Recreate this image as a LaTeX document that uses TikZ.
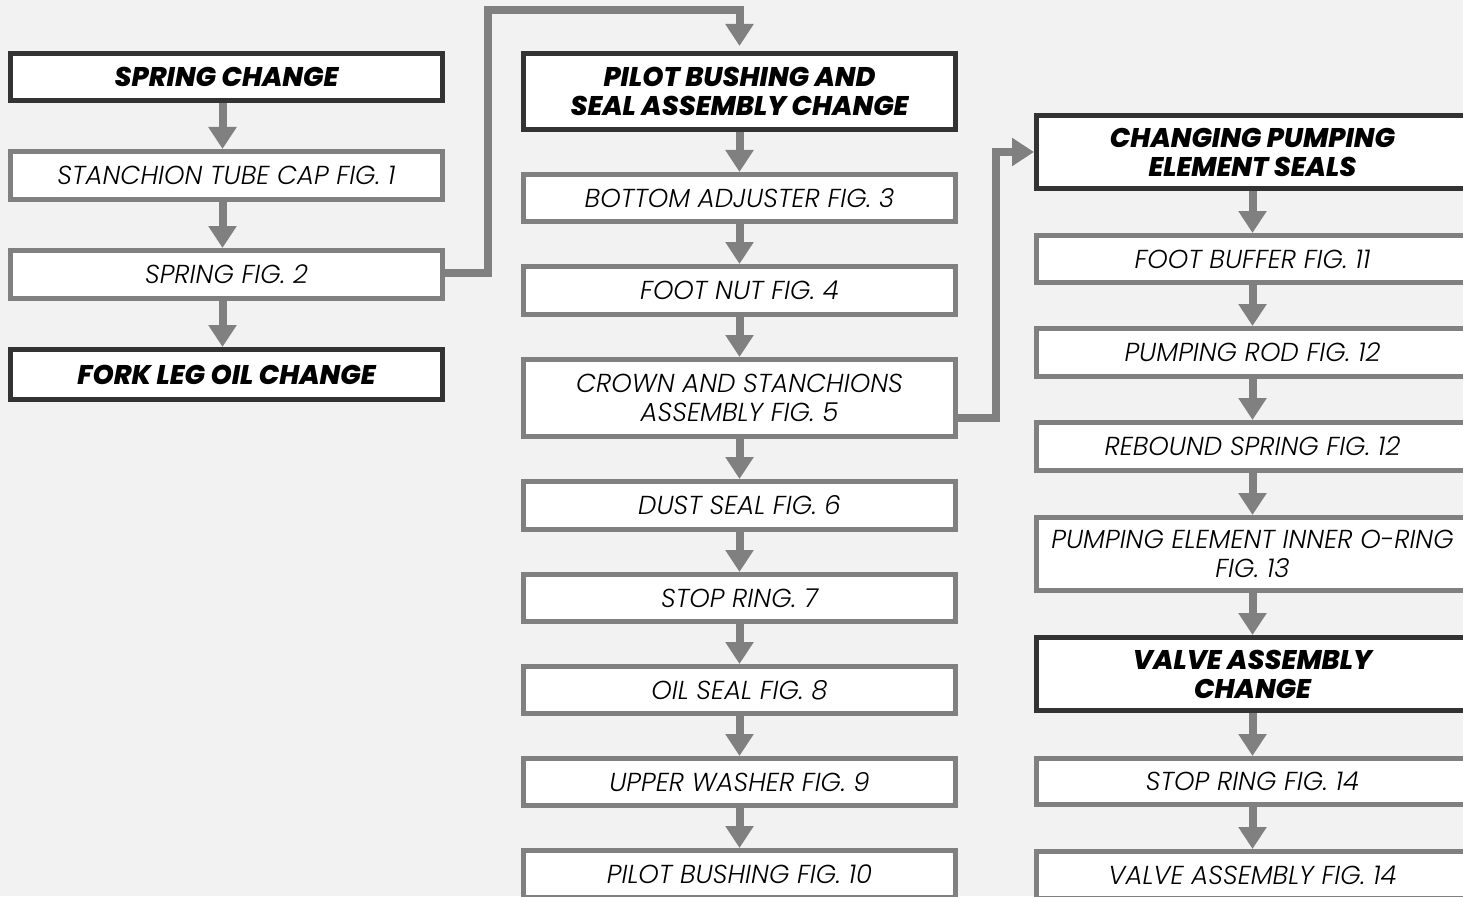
\documentclass[tikz,border=0pt]{standalone}
\usepackage{fontspec}
\newfontfamily\itemfont{Poppins Light Italic}[FakeStretch=1.0]
\newfontfamily\headfont{Poppins ExtraBold Italic}[FakeStretch=1.0]
\usetikzlibrary{arrows.meta,backgrounds}
\definecolor{bgc}{HTML}{F2F2F2}
\definecolor{conn}{HTML}{808080}
\definecolor{dark}{HTML}{333333}
\tikzset{
  box/.style={draw=conn, line width=5pt, fill=white, rectangle, minimum width=432pt,
    inner sep=0pt, align=center, text=black, font=\itemfont\fontsize{26}{29}\selectfont},
  head/.style={box, draw=dark, font=\headfont\fontsize{27}{29}\selectfont},
  arr/.style={draw=conn, line width=8pt, -{Triangle[width=27pt,length=22pt]}},
}
\begin{document}
\begin{tikzpicture}[x=1pt,y=-1pt]
\useasboundingbox (0,0) rectangle (1463,896);
\clip (0,0) rectangle (1463,896);
\begin{pgfonlayer}{background}
\fill[bgc] (0,0) rectangle (1463,896);
\end{pgfonlayer}
% left column
\node[head, minimum height=47pt] (sc) at (226.5,77) {SPRING CHANGE};
\node[box, minimum height=48pt] (stc) at (226.5,175.5) {STANCHION TUBE CAP FIG. 1};
\node[box, minimum height=48pt] (sf2) at (226.5,274.5) {SPRING FIG. 2};
\node[head, minimum height=50pt] (flo) at (226.5,374.5) {FORK LEG OIL CHANGE};
% middle column
\node[head, minimum height=76pt] (pbs) at (739.5,91.5) {PILOT BUSHING AND\\SEAL ASSEMBLY CHANGE};
\node[box, minimum height=47pt] (ba) at (739.5,198) {BOTTOM ADJUSTER FIG. 3};
\node[box, minimum height=48pt] (fn) at (739.5,290.5) {FOOT NUT FIG. 4};
\node[box, minimum height=77pt] (crown) at (739.5,398) {CROWN AND STANCHIONS\\ASSEMBLY FIG. 5};
\node[box, minimum height=48pt] (ds) at (739.5,505.5) {DUST SEAL FIG. 6};
\node[box, minimum height=47pt] (sr7) at (739.5,598) {STOP RING. 7};
\node[box, minimum height=47pt] (os) at (739.5,690) {OIL SEAL FIG. 8};
\node[box, minimum height=47pt] (uw) at (739.5,782) {UPPER WASHER FIG. 9};
\node[box, minimum height=47pt] (pb10) at (739.5,874) {PILOT BUSHING FIG. 10};
% right column
\node[head, minimum height=73pt] (cps) at (1252.5,152) {CHANGING PUMPING\\ELEMENT SEALS};
\node[box, minimum height=47pt] (fb) at (1252.5,259) {FOOT BUFFER FIG. 11};
\node[box, minimum height=48pt] (pr) at (1252.5,352.5) {PUMPING ROD FIG. 12};
\node[box, minimum height=48pt] (rs) at (1252.5,446.5) {REBOUND SPRING FIG. 12};
\node[box, minimum height=73pt] (oring) at (1252.5,554) {PUMPING ELEMENT INNER O-RING\\FIG. 13};
\node[head, minimum height=73pt] (vac) at (1252.5,674) {VALVE ASSEMBLY\\CHANGE};
\node[box, minimum height=46pt] (sr14) at (1252.5,781.5) {STOP RING FIG. 14};
\node[box, minimum height=47pt] (va14) at (1252.5,875) {VALVE ASSEMBLY FIG. 14};
\coordinate (c1) at (488,10);
\coordinate (c2) at (996,152);
\begin{pgfonlayer}{background}
\draw[arr] ([xshift=-4pt]sc.south) -- ([xshift=-4pt]stc.north);
\draw[arr] ([xshift=-4pt]stc.south) -- ([xshift=-4pt]sf2.north);
\draw[arr] ([xshift=-4pt]sf2.south) -- ([xshift=-4pt]flo.north);
\draw[arr] ([yshift=2pt]sf2.east) -| (c1) -| ([yshift=5pt]pbs.north);
\draw[arr] (pbs) -- (ba);
\draw[arr] (ba) -- (fn);
\draw[arr] (fn) -- (crown);
\draw[arr] (crown) -- (ds);
\draw[arr] (ds) -- (sr7);
\draw[arr] (sr7) -- (os);
\draw[arr] (os) -- (uw);
\draw[arr] (uw) -- (pb10);
\draw[arr] ([yshift=-20pt]crown.east) -| (c2) -- (cps.west);
\draw[arr] (cps) -- (fb);
\draw[arr] (fb) -- (pr);
\draw[arr] (pr) -- (rs);
\draw[arr] (rs) -- (oring);
\draw[arr] (oring) -- (vac);
\draw[arr] (vac) -- (sr14);
\draw[arr] (sr14) -- (va14);
\end{pgfonlayer}
\end{tikzpicture}
\end{document}
